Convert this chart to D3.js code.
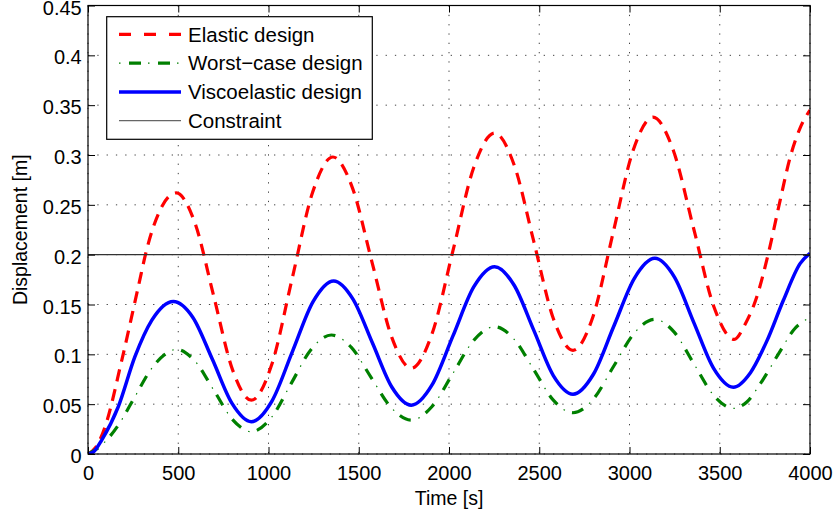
<!DOCTYPE html>
<html>
<head>
<meta charset="utf-8">
<script src="https://cdn.jsdelivr.net/npm/d3@7"></script>
<style>
  html, body { margin: 0; padding: 0; background: #fff; }
  svg { display: block; }
  text { font-family: "Liberation Sans", Arial, Helvetica, sans-serif; fill: #000; }
</style>
</head>
<body>
<svg id="chart" width="836" height="517"></svg>
<script>
// ---------------- data ----------------
const seriesNames = ["Elastic design", "Worst\u2212case design", "Viscoelastic design", "Constraint"];

const elasticT = [0, 40, 94, 187, 279, 325, 400, 489, 593, 697, 801, 905, 1018, 1131, 1244, 1357, 1465, 1574, 1683, 1791, 1906, 2022, 2137, 2253, 2361, 2470, 2578, 2687, 2798, 2908, 3019, 3130, 3242, 3355, 3467, 3580, 3640, 3704, 3769, 3834, 3889, 3945, 4000];
const elasticV = [0, 0.006, 0.027, 0.094, 0.168, 0.205, 0.245, 0.262, 0.2315, 0.158, 0.0844, 0.054, 0.0897, 0.176, 0.2623, 0.298, 0.267, 0.192, 0.117, 0.086, 0.1206, 0.204, 0.2874, 0.322, 0.290, 0.213, 0.136, 0.104, 0.138, 0.221, 0.304, 0.338, 0.305, 0.2265, 0.148, 0.115, 0.130, 0.157, 0.201, 0.254, 0.297, 0.327, 0.345];

const worstT = [0, 76, 168, 260, 353, 420, 491, 594, 698, 801, 905, 1016, 1126, 1237, 1348, 1459, 1569, 1680, 1791, 1906, 2022, 2137, 2253, 2361, 2470, 2578, 2687, 2800, 2913, 3027, 3140, 3249, 3357, 3466, 3575, 3650, 3723, 3834, 3907, 4000];
const worstV = [0, 0.009, 0.029, 0.0575, 0.086, 0.099, 0.105, 0.0929, 0.0637, 0.0345, 0.0224, 0.0366, 0.0709, 0.1052, 0.1194, 0.1069, 0.0767, 0.0465, 0.034, 0.0477, 0.0809, 0.114, 0.1277, 0.1151, 0.0845, 0.054, 0.0414, 0.0551, 0.0883, 0.1214, 0.1351, 0.122, 0.0904, 0.0589, 0.0458, 0.0522, 0.070, 0.103, 0.124, 0.137];

const viscoT = [0, 30, 76, 168, 260, 353, 473, 581, 689, 797, 905, 1019, 1133, 1247, 1361, 1468, 1576, 1683, 1791, 1906, 2022, 2137, 2253, 2361, 2470, 2578, 2687, 2800, 2913, 3027, 3140, 3249, 3357, 3466, 3575, 3670, 3760, 3852, 3945, 4000];
const viscoV = [0, 0.002, 0.014, 0.0475, 0.0976, 0.134, 0.153, 0.137, 0.095, 0.051, 0.0324, 0.0531, 0.103, 0.1529, 0.1736, 0.1554, 0.1113, 0.0672, 0.049, 0.0693, 0.1185, 0.1677, 0.188, 0.1693, 0.124, 0.0787, 0.060, 0.080, 0.1282, 0.1763, 0.1963, 0.1774, 0.1316, 0.0859, 0.067, 0.0816, 0.113, 0.154, 0.191, 0.2014];

const constraintT = [0, 4000];
const constraintV = [0.2, 0.2];

const xTicks = [0, 500, 1000, 1500, 2000, 2500, 3000, 3500, 4000];
const xTickLabels = ["0", "500", "1000", "1500", "2000", "2500", "3000", "3500", "4000"];
const yTicks = [0, 0.05, 0.1, 0.15, 0.2, 0.25, 0.3, 0.35, 0.4, 0.45];
const yTickLabels = ["0", "0.05", "0.1", "0.15", "0.2", "0.25", "0.3", "0.35", "0.4", "0.45"];

const xLabel = "Time [s]";
const yLabel = "Displacement [m]";

// ---------------- layout ----------------
const L = 88, R = 810, T = 5.5, B = 454;
const FS = 20, FSL = 19.5, FSG = 20.5;

const svg = d3.select("#chart");
svg.append("rect").attr("width", 836).attr("height", 517).attr("fill", "#fff");

const x = d3.scaleLinear().domain([0, 4000]).range([L, R]);
const y = d3.scaleLinear().domain([0, 0.45]).range([B, T]);

// grid
const grid = svg.append("g");
grid.selectAll("line.gx").data(xTicks).join("line")
  .attr("x1", d => x(d)).attr("x2", d => x(d)).attr("y1", T).attr("y2", B)
  .attr("stroke", "#444").attr("stroke-width", 1).attr("stroke-dasharray", "1.3,8");
grid.selectAll("line.gy").data(yTicks).join("line")
  .attr("y1", d => y(d)).attr("y2", d => y(d)).attr("x1", L).attr("x2", R)
  .attr("stroke", "#444").attr("stroke-width", 1).attr("stroke-dasharray", "1.3,8");

// clip
svg.append("clipPath").attr("id", "clip").append("rect")
  .attr("x", L).attr("y", T).attr("width", R - L).attr("height", B - T);

const line = d3.line().x(d => x(d[0])).y(d => y(d[1])).curve(d3.curveMonotoneX);
const zip = (a, b) => a.map((t, i) => [t, b[i]]);

const plot = svg.append("g").attr("clip-path", "url(#clip)");

plot.append("path").attr("d", line(zip(elasticT, elasticV)))
  .attr("fill", "none").attr("stroke", "#ff0000").attr("stroke-width", 3.2)
  .attr("stroke-dasharray", "12,8");

const wpts = zip(worstT, worstV);
plot.append("path").attr("d", line(wpts))
  .attr("fill", "none").attr("stroke", "#008000").attr("stroke-width", 3.2)
  .attr("stroke-dasharray", "12,17");
plot.append("path").attr("d", line(wpts))
  .attr("fill", "none").attr("stroke", "#008000").attr("stroke-width", 1.2)
  .attr("stroke-dasharray", "1.5,27.5").attr("stroke-dashoffset", 9);

plot.append("path").attr("d", line(zip(viscoT, viscoV)))
  .attr("fill", "none").attr("stroke", "#0000ff").attr("stroke-width", 3.5);

plot.append("path").attr("d", d3.line().x(d => x(d[0])).y(d => y(d[1]))(zip(constraintT, constraintV)))
  .attr("fill", "none").attr("stroke", "#333").attr("stroke-width", 1.2);

// axes (ticks inward)
const fmtX = d => xTickLabels[xTicks.indexOf(d)];
const fmtY = d => yTickLabels[yTicks.indexOf(d)];

const gb = svg.append("g").attr("transform", `translate(0,${B})`)
  .call(d3.axisBottom(x).tickValues(xTicks).tickFormat(fmtX).tickSizeInner(-7).tickSizeOuter(0));
gb.selectAll("text").attr("y", 25.5).attr("dy", null);

const gt = svg.append("g").attr("transform", `translate(0,${T})`)
  .call(d3.axisTop(x).tickValues(xTicks).tickFormat("").tickSizeInner(-7).tickSizeOuter(0));

const gl = svg.append("g").attr("transform", `translate(${L},0)`)
  .call(d3.axisLeft(y).tickValues(yTicks).tickFormat(fmtY).tickSizeInner(-7).tickSizeOuter(0).tickPadding(6.3));
gl.selectAll("text").attr("dy", "0.43em");

const gr = svg.append("g").attr("transform", `translate(${R},0)`)
  .call(d3.axisRight(y).tickValues(yTicks).tickFormat("").tickSizeInner(-7).tickSizeOuter(0));

[gb, gt, gl, gr].forEach(g => {
  g.select(".domain").remove();
  g.selectAll("line").attr("stroke", "#000").attr("stroke-width", 1);
  g.selectAll("text").attr("font-size", FS).attr("font-family", '"Liberation Sans", Arial, sans-serif').attr("fill", "#000");
});

// frame
svg.append("rect").attr("x", L).attr("y", T).attr("width", R - L).attr("height", B - T)
  .attr("fill", "none").attr("stroke", "#000").attr("stroke-width", 1.2);

// axis labels
svg.append("text").attr("x", (L + R) / 2).attr("y", 505).attr("text-anchor", "middle")
  .attr("font-size", FSL).text(xLabel);
svg.append("text").attr("transform", `translate(27,${(T + B) / 2}) rotate(-90)`)
  .attr("text-anchor", "middle").attr("font-size", FSL).text(yLabel);

// legend
const lg = svg.append("g");
lg.append("rect").attr("x", 106.7).attr("y", 16.7).attr("width", 265.6).attr("height", 122.6)
  .attr("fill", "#fff").attr("stroke", "#000").attr("stroke-width", 1.2);
const rowY = [34.3, 63.1, 91.9, 120.7];
const lx1 = 119, lx2 = 181, tx = 188;

lg.append("line").attr("x1", lx1).attr("x2", lx2).attr("y1", rowY[0]).attr("y2", rowY[0])
  .attr("stroke", "#ff0000").attr("stroke-width", 3.2).attr("stroke-dasharray", "12,13");
lg.append("line").attr("x1", lx1).attr("x2", lx2).attr("y1", rowY[1]).attr("y2", rowY[1])
  .attr("stroke", "#008000").attr("stroke-width", 3.2).attr("stroke-dasharray", "12,17").attr("stroke-dashoffset", -10);
lg.append("line").attr("x1", lx1).attr("x2", lx2).attr("y1", rowY[1]).attr("y2", rowY[1])
  .attr("stroke", "#008000").attr("stroke-width", 1.2).attr("stroke-dasharray", "1.5,27.5");
lg.append("line").attr("x1", lx1).attr("x2", lx2).attr("y1", rowY[2]).attr("y2", rowY[2])
  .attr("stroke", "#0000ff").attr("stroke-width", 3.5);
lg.append("line").attr("x1", lx1).attr("x2", lx2).attr("y1", rowY[3]).attr("y2", rowY[3])
  .attr("stroke", "#666").attr("stroke-width", 1.2);

lg.selectAll("text.lt").data(seriesNames).join("text")
  .attr("x", tx).attr("y", (d, i) => rowY[i] + 7.2).attr("font-size", FSG).text(d => d);
</script>
</body>
</html>
